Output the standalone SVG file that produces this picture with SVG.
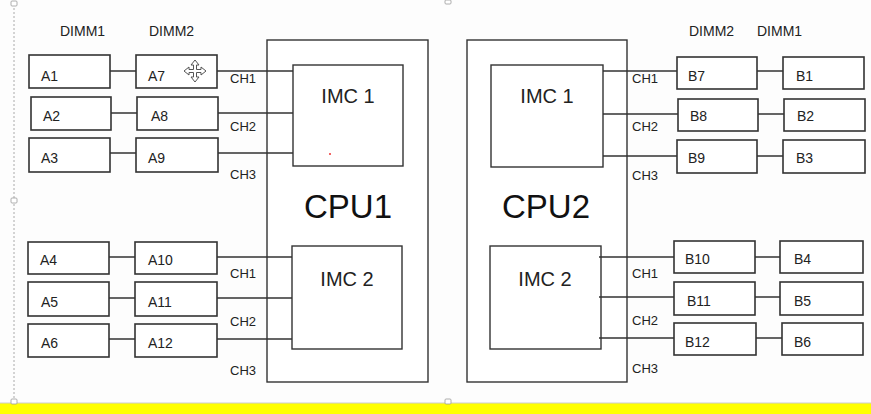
<svg xmlns="http://www.w3.org/2000/svg" width="871" height="414" viewBox="0 0 871 414">
<style>
.bx{fill:#fff;stroke:#333;stroke-width:1.6}
.cpu{fill:#fff;stroke:#333;stroke-width:1.4}
.ln{stroke:#333;stroke-width:1.4;fill:none}
.t{font-family:"Liberation Sans",Arial,sans-serif;font-size:14px;fill:#222}
.ch{font-family:"Liberation Sans",Arial,sans-serif;font-size:13px;fill:#222}
.imc{font-family:"Liberation Sans",Arial,sans-serif;font-size:20px;fill:#222;text-anchor:middle}
.big{font-family:"Liberation Sans",Arial,sans-serif;font-size:33px;fill:#111;text-anchor:middle}
.h{fill:#fff;stroke:#999;stroke-width:0.8}
</style>
<rect width="871" height="414" fill="#fdfdfd"/>
<rect x="0" y="403" width="871" height="11" fill="#ffff00"/>
<line x1="0" y1="403" x2="871" y2="403" stroke="#ccc" stroke-width="1"/>
<line x1="14" y1="4" x2="14" y2="403" stroke="#aaa" stroke-width="1" stroke-dasharray="2,2"/>
<rect class="h" x="11" y="1" width="6" height="5" rx="1"/>
<rect class="h" x="11" y="198" width="6" height="5" rx="1"/>
<rect class="h" x="11" y="399" width="6" height="5" rx="1"/>
<rect class="h" x="445" y="0" width="6" height="4" rx="1"/>
<rect class="h" x="445" y="399" width="6" height="5" rx="1"/>

<g id="labels">
<text class="t" x="60" y="36">DIMM1</text>
<text class="t" x="149" y="36">DIMM2</text>
<text class="t" x="689" y="36">DIMM2</text>
<text class="t" x="757" y="36">DIMM1</text>
</g>

<g id="cpu1">
<rect class="cpu" x="267" y="40" width="161" height="342"/>
<text class="big" x="348" y="218">CPU1</text>
</g>
<g id="cpu1-imc1">
<rect class="cpu" x="293" y="65" width="110" height="101"/>
<text class="imc" x="348" y="103">IMC 1</text>
<circle cx="330" cy="154" r="1" fill="#e33"/>
</g>
<g id="cpu1-imc2">
<rect class="cpu" x="292" y="246" width="110" height="103"/>
<text class="imc" x="347" y="286">IMC 2</text>
</g>
<g id="cpu2">
<rect class="cpu" x="467" y="40" width="160" height="342"/>
<text class="big" x="546" y="218">CPU2</text>
</g>
<g id="cpu2-imc1">
<rect class="cpu" x="491" y="65" width="112" height="102"/>
<text class="imc" x="547" y="103">IMC 1</text>
</g>
<g id="cpu2-imc2">
<rect class="cpu" x="490" y="246" width="111" height="103"/>
<text class="imc" x="545" y="286">IMC 2</text>
</g>

<g id="connectors">
<path class="ln" d="M110 71H136M217 71H293"/>
<path class="ln" d="M111 113H137M218 113H293"/>
<path class="ln" d="M110 153H136M218 153H293"/>
<path class="ln" d="M109 257H135M217 257H292"/>
<path class="ln" d="M109 298H135M217 298H292"/>
<path class="ln" d="M109 339H135M217 339H292"/>
<path class="ln" d="M603 71H677M757 71H783"/>
<path class="ln" d="M603 114H678M758 114H784"/>
<path class="ln" d="M603 156H677M757 156H783"/>
<path class="ln" d="M599 257H674M755 257H780"/>
<path class="ln" d="M599 297H674M755 297H780"/>
<path class="ln" d="M599 338H674M756 338H782"/>
</g>

<g id="ch-labels">
<text class="ch" x="230" y="83">CH1</text>
<text class="ch" x="230" y="131">CH2</text>
<text class="ch" x="230" y="179">CH3</text>
<text class="ch" x="230" y="278">CH1</text>
<text class="ch" x="230" y="326">CH2</text>
<text class="ch" x="230" y="375">CH3</text>
<text class="ch" x="632" y="83">CH1</text>
<text class="ch" x="632" y="131">CH2</text>
<text class="ch" x="632" y="180">CH3</text>
<text class="ch" x="632" y="278">CH1</text>
<text class="ch" x="632" y="325">CH2</text>
<text class="ch" x="632" y="373">CH3</text>
</g>

<g id="A1"><rect class="bx" x="29" y="55" width="81" height="33"/><text class="t" x="41" y="81">A1</text></g>
<g id="A7"><rect class="bx" x="136" y="55" width="81" height="33"/><text class="t" x="148" y="81">A7</text></g>
<g id="A2"><rect class="bx" x="31" y="97" width="80" height="33"/><text class="t" x="43" y="121">A2</text></g>
<g id="A8"><rect class="bx" x="137" y="97" width="81" height="33"/><text class="t" x="151" y="121">A8</text></g>
<g id="A3"><rect class="bx" x="29" y="138" width="81" height="34"/><text class="t" x="41" y="163">A3</text></g>
<g id="A9"><rect class="bx" x="136" y="138" width="82" height="34"/><text class="t" x="148" y="163">A9</text></g>
<g id="A4"><rect class="bx" x="28" y="242" width="81" height="32"/><text class="t" x="40" y="265">A4</text></g>
<g id="A10"><rect class="bx" x="135" y="242" width="82" height="32"/><text class="t" x="148" y="265">A10</text></g>
<g id="A5"><rect class="bx" x="28" y="282" width="81" height="34"/><text class="t" x="41" y="307">A5</text></g>
<g id="A11"><rect class="bx" x="135" y="282" width="82" height="34"/><text class="t" x="148" y="307">A11</text></g>
<g id="A6"><rect class="bx" x="28" y="324" width="81" height="33"/><text class="t" x="41" y="348">A6</text></g>
<g id="A12"><rect class="bx" x="135" y="324" width="82" height="33"/><text class="t" x="148" y="348">A12</text></g>

<g id="B7"><rect class="bx" x="677" y="57" width="80" height="32"/><text class="t" x="688" y="81">B7</text></g>
<g id="B1"><rect class="bx" x="783" y="57" width="81" height="32"/><text class="t" x="796" y="81">B1</text></g>
<g id="B8"><rect class="bx" x="678" y="99" width="80" height="32"/><text class="t" x="690" y="121">B8</text></g>
<g id="B2"><rect class="bx" x="784" y="99" width="81" height="32"/><text class="t" x="797" y="121">B2</text></g>
<g id="B9"><rect class="bx" x="677" y="140" width="80" height="33"/><text class="t" x="688" y="163">B9</text></g>
<g id="B3"><rect class="bx" x="783" y="140" width="82" height="33"/><text class="t" x="796" y="163">B3</text></g>
<g id="B10"><rect class="bx" x="674" y="241" width="81" height="32"/><text class="t" x="685" y="264">B10</text></g>
<g id="B4"><rect class="bx" x="780" y="241" width="83" height="32"/><text class="t" x="794" y="264">B4</text></g>
<g id="B11"><rect class="bx" x="674" y="282" width="81" height="33"/><text class="t" x="687" y="306">B11</text></g>
<g id="B5"><rect class="bx" x="780" y="282" width="83" height="33"/><text class="t" x="794" y="306">B5</text></g>
<g id="B12"><rect class="bx" x="674" y="323" width="82" height="32"/><text class="t" x="685" y="347">B12</text></g>
<g id="B6"><rect class="bx" x="782" y="323" width="81" height="32"/><text class="t" x="794" y="347">B6</text></g>

<g id="cursor" fill="#fff" stroke="#555" stroke-width="1">
<path d="M195 60l-4 5h2.5v4.5h-4.5v-2.5l-5 4 5 4v-2.5h4.5v4.5h-2.5l4 5 4-5h-2.5v-4.5h4.5v2.5l5-4-5-4v2.5h-4.5v-4.5h2.5z"/>
</g>
</svg>
